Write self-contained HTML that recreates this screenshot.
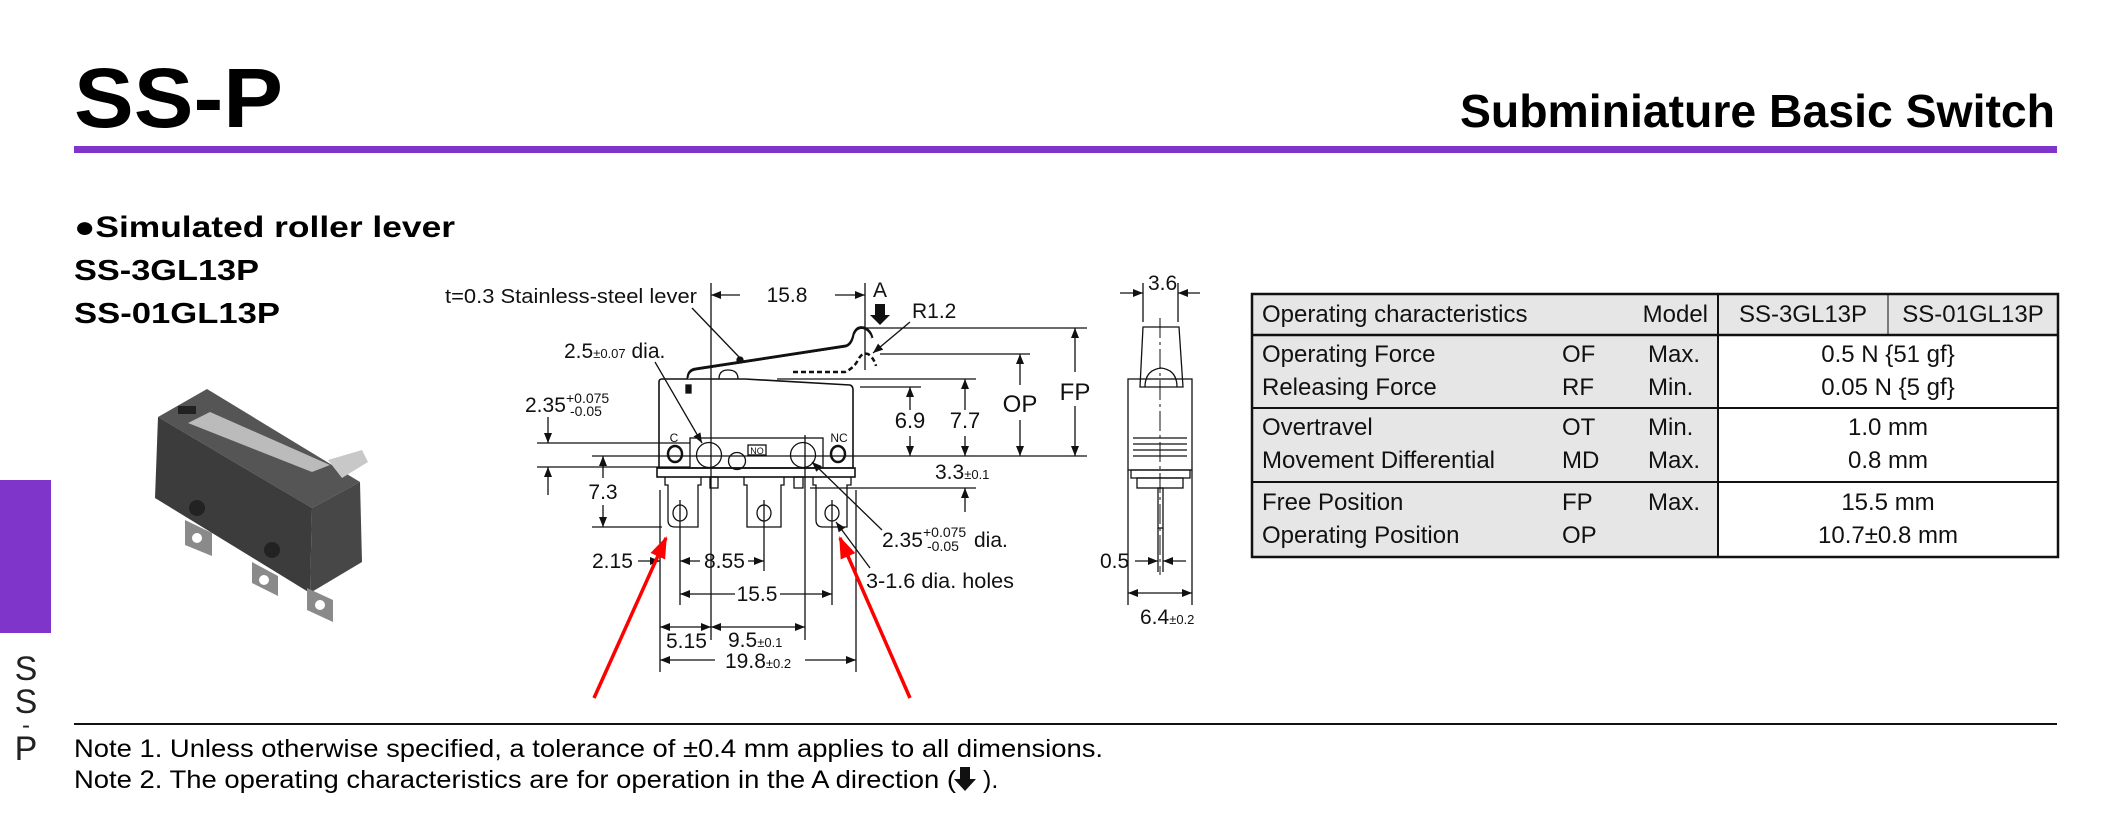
<!DOCTYPE html>
<html><head><meta charset="utf-8"><style>
html,body{margin:0;padding:0;background:#fff;}
svg{display:block;font-family:"Liberation Sans",Arial,sans-serif;}
</style></head><body>
<svg width="2115" height="828" viewBox="0 0 2115 828" xmlns="http://www.w3.org/2000/svg">
<defs>
<marker id="ar" markerWidth="10" markerHeight="8" refX="10" refY="4" orient="auto" markerUnits="userSpaceOnUse"><path d="M0,0 L10,4 L0,8 z" fill="#111"/></marker>
<marker id="red" markerWidth="22" markerHeight="16" refX="20" refY="8" orient="auto" markerUnits="userSpaceOnUse"><path d="M0,0 L22,8 L0,16 z" fill="#f00"/></marker>
</defs>
<!-- header -->
<text x="74" y="127" font-size="84" font-weight="bold" textLength="209" lengthAdjust="spacingAndGlyphs">SS-P</text>
<text x="1460" y="127" font-size="46" font-weight="bold" textLength="595" lengthAdjust="spacingAndGlyphs">Subminiature Basic Switch</text>
<rect x="74" y="146" width="1983" height="7" fill="#7f35c9"/>
<rect x="0" y="480" width="51" height="153" fill="#7f35c9"/>
<g font-size="34" fill="#222" text-anchor="middle">
<text x="26" y="680">S</text><text x="26" y="713">S</text><text x="26" y="733" font-size="24">-</text><text x="26" y="760">P</text>
</g>
<text x="74" y="237" font-size="30" font-weight="bold" textLength="381" lengthAdjust="spacingAndGlyphs">●Simulated roller lever</text>
<text x="74" y="280" font-size="29" font-weight="bold" textLength="185" lengthAdjust="spacingAndGlyphs">SS-3GL13P</text>
<text x="74" y="323" font-size="29" font-weight="bold" textLength="206" lengthAdjust="spacingAndGlyphs">SS-01GL13P</text>

<!-- photo -->
<g>
<polygon points="158,417 207,389 360,482 312,508" fill="#555"/>
<polygon points="158,417 312,508 310,593 155,498" fill="#3c3c3c"/>
<polygon points="312,508 360,482 362,562 310,593" fill="#474747"/>
<polygon points="188,423 210,412 330,465 312,472" fill="#bbb"/>
<polygon points="328,460 362,450 368,462 342,478" fill="#c8c8c8"/>
<rect x="178" y="406" width="18" height="8" fill="#222"/>
<circle cx="197" cy="508" r="8" fill="#222"/><circle cx="272" cy="550" r="8" fill="#222"/>
<polygon points="185,520 212,533 212,556 185,545" fill="#8a8a8a"/><circle cx="197" cy="538" r="5" fill="#fff"/>
<polygon points="252,562 278,576 278,596 252,583" fill="#8a8a8a"/><circle cx="264" cy="580" r="5" fill="#fff"/>
<polygon points="307,588 333,600 333,622 307,610" fill="#8a8a8a"/><circle cx="320" cy="605" r="5" fill="#fff"/>
</g>

<!-- drawing -->
<g stroke="#111" fill="none" stroke-width="1.3">
<path d="M662,379 L745,379 L850,385 Q853,386 853,390 L853,468 L659,468 L659,382 Q659,379 662,379 Z" stroke-width="1.6"/>
<rect x="657" y="468" width="198" height="9" stroke-width="1.6"/>
<rect x="690" y="438" width="133" height="30"/>
<circle cx="709" cy="455" r="12.5"/><circle cx="803" cy="455" r="12.5"/>
<circle cx="737" cy="461" r="8.5"/>
<ellipse cx="675" cy="454" rx="7" ry="8" stroke-width="2.5"/>
<ellipse cx="838" cy="454" rx="7" ry="8" stroke-width="2.5"/>
<rect x="748" y="445" width="18" height="10"/>
<path d="M665,477 L665,485 L668,485 L668,520 Q668,527 675,527 L698,527 L698,485 L701,485 L701,477"/>
<path d="M744,477 L744,485 L747,485 L747,527 L781,527 L781,485 L784,485 L784,477"/>
<path d="M813,477 L813,485 L816,485 L816,520 Q816,527 823,527 L847,527 L847,485 L851,485 L851,477"/>
<ellipse cx="680" cy="513" rx="7" ry="8"/><ellipse cx="764" cy="513" rx="7" ry="8"/><ellipse cx="832" cy="513" rx="7" ry="8"/>
<rect x="710" y="477" width="8" height="11"/><rect x="794" y="477" width="9" height="11"/>
<path d="M688,379 Q688,370 696,369 L846,346 Q852,344 854,334 Q857,326 864,328 Q870,330 872,338" stroke-width="3"/>
<path d="M689,379 Q689,372 696,371 L846,348 Q853,346 855,335 Q858,328 864,330 Q869,332 871,338" stroke="#fff" stroke-width="1"/>
<path d="M719,379 Q719,370 728,370 Q738,370 738,379"/>
<circle cx="740" cy="360" r="3" fill="#111"/>
<path d="M793,372 L845,372 Q854,368 858,360 Q862,352 868,354 Q874,358 876,366" stroke-dasharray="5,3" stroke-width="2.5"/>
<rect x="686" y="385" width="5" height="8" fill="#111"/>
<line x1="711" y1="283" x2="711" y2="640"/>
<line x1="805" y1="435" x2="805" y2="640"/>
<line x1="865" y1="283" x2="865" y2="370"/>
<line x1="865" y1="328" x2="1087" y2="328"/>
<line x1="880" y1="354" x2="1030" y2="354"/>
<line x1="777" y1="379" x2="976" y2="379"/>
<line x1="860" y1="387" x2="921" y2="387"/>
<line x1="592" y1="456" x2="1087" y2="456"/>
<line x1="810" y1="488" x2="976" y2="488"/>
<line x1="537" y1="443" x2="690" y2="443"/>
<line x1="537" y1="467" x2="690" y2="467"/>
<line x1="592" y1="527" x2="662" y2="527"/>
<line x1="660" y1="490" x2="660" y2="672"/>
<line x1="856" y1="490" x2="856" y2="672"/>
<line x1="680" y1="500" x2="680" y2="605"/>
<line x1="764" y1="500" x2="764" y2="571"/>
<line x1="832" y1="500" x2="832" y2="605"/>
<line x1="740" y1="295" x2="711" y2="295" marker-end="url(#ar)"/>
<line x1="835" y1="295" x2="865" y2="295" marker-end="url(#ar)"/>
<line x1="910" y1="410" x2="910" y2="387" marker-end="url(#ar)"/>
<line x1="910" y1="436" x2="910" y2="456" marker-end="url(#ar)"/>
<line x1="965" y1="410" x2="965" y2="379" marker-end="url(#ar)"/>
<line x1="965" y1="436" x2="965" y2="456" marker-end="url(#ar)"/>
<line x1="1020" y1="385" x2="1020" y2="354" marker-end="url(#ar)"/>
<line x1="1020" y1="420" x2="1020" y2="456" marker-end="url(#ar)"/>
<line x1="1075" y1="372" x2="1075" y2="328" marker-end="url(#ar)"/>
<line x1="1075" y1="406" x2="1075" y2="456" marker-end="url(#ar)"/>
<line x1="965" y1="512" x2="965" y2="488" marker-end="url(#ar)"/>
<line x1="548" y1="417" x2="548" y2="443" marker-end="url(#ar)"/>
<line x1="548" y1="495" x2="548" y2="467" marker-end="url(#ar)"/>
<line x1="603" y1="478" x2="603" y2="456" marker-end="url(#ar)"/>
<line x1="603" y1="505" x2="603" y2="527" marker-end="url(#ar)"/>
<line x1="638" y1="561" x2="660" y2="561" marker-end="url(#ar)"/>
<line x1="700" y1="561" x2="680" y2="561" marker-end="url(#ar)"/>
<line x1="748" y1="561" x2="764" y2="561" marker-end="url(#ar)"/>
<line x1="735" y1="594" x2="680" y2="594" marker-end="url(#ar)"/>
<line x1="780" y1="594" x2="832" y2="594" marker-end="url(#ar)"/>
<line x1="685" y1="627" x2="660" y2="627" marker-end="url(#ar)"/>
<line x1="685" y1="627" x2="711" y2="627" marker-end="url(#ar)"/>
<line x1="750" y1="627" x2="711" y2="627" marker-end="url(#ar)"/>
<line x1="750" y1="627" x2="805" y2="627" marker-end="url(#ar)"/>
<line x1="715" y1="660" x2="660" y2="660" marker-end="url(#ar)"/>
<line x1="805" y1="660" x2="856" y2="660" marker-end="url(#ar)"/>
<line x1="692" y1="308" x2="740" y2="358"/>
<line x1="655" y1="362" x2="702" y2="443" marker-end="url(#ar)"/>
<line x1="910" y1="322" x2="873" y2="353" marker-end="url(#ar)"/>
<line x1="882" y1="530" x2="812" y2="462" marker-end="url(#ar)"/>
<line x1="870" y1="568" x2="836" y2="522" marker-end="url(#ar)"/>
<line x1="1160" y1="318" x2="1160" y2="575" stroke-dasharray="20,4,3,4" stroke-width="1"/>
<path d="M1143,327 L1179,327 L1183,387 L1140,387 Z"/>
<path d="M1145,387 Q1145,370 1161,368 Q1177,370 1177,387"/>
<rect x="1128" y="379" width="64" height="91"/>
<path d="M1133,438 L1187,438 M1133,444 L1187,444 M1133,450 L1187,450 M1133,456 L1187,456"/>
<rect x="1131" y="470" width="59" height="8"/>
<rect x="1137" y="478" width="46" height="10"/>
<rect x="1158" y="488" width="5" height="40"/>
<line x1="1143" y1="283" x2="1143" y2="322"/><line x1="1178" y1="283" x2="1178" y2="322"/>
<line x1="1120" y1="293" x2="1143" y2="293" marker-end="url(#ar)"/>
<line x1="1200" y1="293" x2="1178" y2="293" marker-end="url(#ar)"/>
<line x1="1158" y1="528" x2="1158" y2="572"/><line x1="1163" y1="528" x2="1163" y2="572"/>
<line x1="1135" y1="561" x2="1158" y2="561" marker-end="url(#ar)"/>
<line x1="1186" y1="561" x2="1163" y2="561" marker-end="url(#ar)"/>
<line x1="1128" y1="470" x2="1128" y2="605"/><line x1="1192" y1="470" x2="1192" y2="605"/>
<line x1="1160" y1="593" x2="1128" y2="593" marker-end="url(#ar)"/>
<line x1="1160" y1="593" x2="1192" y2="593" marker-end="url(#ar)"/>
</g>
<path d="M875,304 L885,304 L885,315 L890,315 L880,325 L870,315 L875,315 Z" fill="#111"/>
<line x1="594" y1="698" x2="666" y2="538" stroke="#f00" stroke-width="3.5" marker-end="url(#red)"/>
<line x1="910" y1="698" x2="840" y2="538" stroke="#f00" stroke-width="3.5" marker-end="url(#red)"/>
<g font-size="21" fill="#111">
<text x="445" y="303" font-size="20" textLength="252" lengthAdjust="spacingAndGlyphs">t=0.3 Stainless-steel lever</text>
<text x="787" y="302" text-anchor="middle">15.8</text>
<text x="880" y="297" text-anchor="middle">A</text>
<text x="912" y="318">R1.2</text>
<text x="564" y="358">2.5<tspan font-size="13">±0.07</tspan> dia.</text>
<text x="525" y="412">2.35</text>
<text x="566" y="403" font-size="14">+0.075</text>
<text x="570" y="416" font-size="14">-0.05</text>
<text x="910" y="428" text-anchor="middle" font-size="22">6.9</text>
<text x="965" y="428" text-anchor="middle" font-size="22">7.7</text>
<text x="1020" y="412" text-anchor="middle" font-size="24">OP</text>
<text x="1075" y="400" text-anchor="middle" font-size="24">FP</text>
<text x="935" y="479">3.3<tspan font-size="13">±0.1</tspan></text>
<text x="603" y="499" text-anchor="middle">7.3</text>
<text x="882" y="547">2.35</text>
<text x="923" y="537" font-size="14">+0.075</text>
<text x="927" y="551" font-size="14">-0.05</text>
<text x="974" y="547">dia.</text>
<text x="866" y="588" textLength="148" lengthAdjust="spacingAndGlyphs">3-1.6 dia. holes</text>
<text x="592" y="568">2.15</text>
<text x="704" y="568">8.55</text>
<text x="757" y="601" text-anchor="middle">15.5</text>
<text x="666" y="648">5.15</text>
<text x="728" y="647">9.5<tspan font-size="13">±0.1</tspan></text>
<text x="725" y="668">19.8<tspan font-size="13">±0.2</tspan></text>
<text x="1148" y="290">3.6</text>
<text x="1100" y="568">0.5</text>
<text x="1140" y="624">6.4<tspan font-size="13">±0.2</tspan></text>
<text x="674" y="442" font-size="12" text-anchor="middle">C</text>
<text x="839" y="442" font-size="12" text-anchor="middle">NC</text>
<text x="757" y="454" font-size="9" text-anchor="middle">NO</text>
</g>

<!-- table -->
<g>
<rect x="1252" y="294" width="806" height="41" fill="#e6e6e6"/>
<rect x="1252" y="335" width="466" height="222" fill="#e6e6e6"/>
<g stroke="#111" fill="none">
<rect x="1252" y="294" width="806" height="263" stroke-width="2.5"/>
<line x1="1252" y1="335" x2="2058" y2="335" stroke-width="2.5"/>
<line x1="1252" y1="408" x2="2058" y2="408" stroke-width="2"/>
<line x1="1252" y1="482" x2="2058" y2="482" stroke-width="2"/>
<line x1="1718" y1="294" x2="1718" y2="557" stroke-width="2"/>
<line x1="1888" y1="294" x2="1888" y2="335" stroke-width="1"/>
</g>
<g font-size="24" fill="#111">
<text x="1262" y="322">Operating characteristics</text>
<text x="1708" y="322" text-anchor="end">Model</text>
<text x="1803" y="322" text-anchor="middle">SS-3GL13P</text>
<text x="1973" y="322" text-anchor="middle">SS-01GL13P</text>
<text x="1262" y="362">Operating Force</text><text x="1562" y="362">OF</text><text x="1648" y="362">Max.</text>
<text x="1262" y="395">Releasing Force</text><text x="1562" y="395">RF</text><text x="1648" y="395">Min.</text>
<text x="1262" y="435">Overtravel</text><text x="1562" y="435">OT</text><text x="1648" y="435">Min.</text>
<text x="1262" y="468">Movement Differential</text><text x="1562" y="468">MD</text><text x="1648" y="468">Max.</text>
<text x="1262" y="510">Free Position</text><text x="1562" y="510">FP</text><text x="1648" y="510">Max.</text>
<text x="1262" y="543">Operating Position</text><text x="1562" y="543">OP</text>
<g text-anchor="middle">
<text x="1888" y="362">0.5 N {51 gf}</text>
<text x="1888" y="395">0.05 N {5 gf}</text>
<text x="1888" y="435">1.0 mm</text>
<text x="1888" y="468">0.8 mm</text>
<text x="1888" y="510">15.5 mm</text>
<text x="1888" y="543">10.7±0.8 mm</text>
</g>
</g>
</g>

<!-- notes -->
<rect x="74" y="723" width="1983" height="2" fill="#111"/>
<text x="74" y="757" font-size="25" textLength="1029" lengthAdjust="spacingAndGlyphs">Note 1. Unless otherwise specified, a tolerance of ±0.4 mm applies to all dimensions.</text>
<text x="74" y="788" font-size="25" textLength="882" lengthAdjust="spacingAndGlyphs">Note 2. The operating characteristics are for operation in the A direction (</text>
<path d="M960,767 L970,767 L970,779 L976,779 L965,791 L954,779 L960,779 Z" fill="#111"/>
<text x="983" y="788" font-size="25">).</text>
</svg>
</body></html>
